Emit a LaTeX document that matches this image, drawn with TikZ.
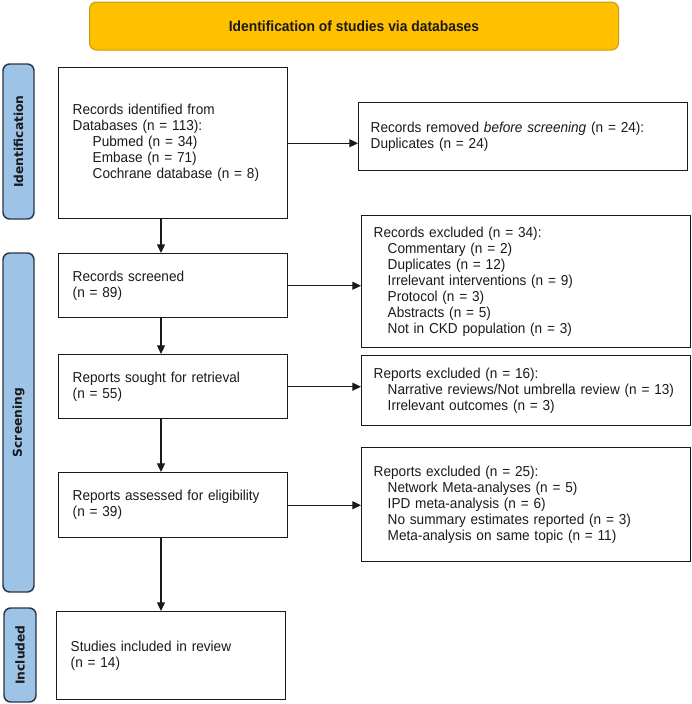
\documentclass[tikz,border=0pt]{standalone}
\usepackage{fontspec}
\setmainfont[FakeStretch=0.945]{Liberation Sans}
\newfontfamily\barfont{DejaVu Sans}
\usetikzlibrary{arrows.meta}
\definecolor{bannerfill}{HTML}{FFC000}
\definecolor{bannerline}{HTML}{C89A10}
\definecolor{barfill}{HTML}{9DC3E6}
\definecolor{barline}{HTML}{2A3645}
\definecolor{ink}{HTML}{1A1A1A}
\begin{document}
\begin{tikzpicture}[x=0.75pt,y=-0.75pt,
  every node/.style={font=\fontsize{10.8pt}{12pt}\selectfont, text=ink},
  mainbox/.style={draw=ink, line width=1.1pt, anchor=north west, inner xsep=10.5pt, inner ysep=0pt, text width=150.75pt, align=left},
  sidebox/.style={draw=ink, line width=1.1pt, anchor=north west, inner xsep=9pt, inner ysep=0pt, text width=228.75pt, align=left},
  phase/.style={draw=barline, fill=barfill, line width=1.1pt, rounded corners=5pt, minimum height=23.25pt, inner sep=0pt, rotate=90, font=\barfont\bfseries\fontsize{9.2pt}{10pt}\selectfont},
  banner/.style={draw=bannerline, fill=bannerfill, line width=0.75pt, rounded corners=5.25pt, minimum width=396.75pt, minimum height=36pt, font=\bfseries\fontsize{11pt}{12pt}\selectfont},
  flow/.style={draw=ink, line width=0.9pt, -{Triangle[length=6.5pt,width=6pt]}}]
\useasboundingbox (0,0) rectangle (692,704);

% banner
\node[banner] (title) at (354,26) {Identification of studies via databases};

% phase bars
\node[phase, minimum width=116.25pt] (pid) at (18.5,141.5) {Identification};
\node[phase, minimum width=254.25pt] (pscr) at (18.5,422.5) {Screening};
\node[phase, minimum width=70.5pt, minimum height=24pt] (pinc) at (20,655) {Included};

% main column
\node[mainbox, minimum height=113.25pt] (B1) at (58,67) {Records identified from\\Databases (n = 113):\\\hspace*{15pt}Pubmed (n = 34)\\\hspace*{15pt}Embase (n = 71)\\\hspace*{15pt}Cochrane database (n = 8)};
\node[mainbox, minimum height=48pt] (B2) at (58,253) {Records screened\\(n = 89)};
\node[mainbox, minimum height=48pt] (B3) at (58,354) {Reports sought for retrieval\\(n = 55)};
\node[mainbox, minimum height=48.75pt] (B4) at (58,472) {Reports assessed for eligibility\\(n = 39)};
\node[mainbox, minimum height=66pt] (B5) at (56,611) {Studies included in review\\(n = 14)};

% side column
\node[sidebox, minimum height=51pt] (R0) at (358,102) {Records removed \textit{before screening} (n = 24):\\Duplicates (n = 24)};
\node[sidebox, minimum height=99pt] (R1) at (361,215) {Records excluded (n = 34):\\\hspace*{10.5pt}Commentary (n = 2)\\\hspace*{10.5pt}Duplicates (n = 12)\\\hspace*{10.5pt}Irrelevant interventions (n = 9)\\\hspace*{10.5pt}Protocol (n = 3)\\\hspace*{10.5pt}Abstracts (n = 5)\\\hspace*{10.5pt}Not in CKD population (n = 3)};
\node[sidebox, minimum height=52.5pt] (R2) at (361,355) {Reports excluded (n = 16):\\\hspace*{10.5pt}Narrative reviews/Not umbrella review (n = 13)\\\hspace*{10.5pt}Irrelevant outcomes (n = 3)};
\node[sidebox, minimum height=85.5pt] (R3) at (361,447) {Reports excluded (n = 25):\\\hspace*{10.5pt}Network Meta-analyses (n = 5)\\\hspace*{10.5pt}IPD meta-analysis (n = 6)\\\hspace*{10.5pt}No summary estimates reported (n = 3)\\\hspace*{10.5pt}Meta-analysis on same topic (n = 11)};

% connectors
\coordinate (ax) at (161,0);
\draw[flow] (B1.south -| ax) -- (B2.north -| ax);
\draw[flow] (B2.south -| ax) -- (B3.north -| ax);
\draw[flow] (B3.south -| ax) -- (B4.north -| ax);
\draw[flow] (B4.south -| ax) -- (B5.north -| ax);
\draw[flow] (B1.east) -- (B1.east -| R0.west);
\draw[flow] (B2.east) -- (B2.east -| R1.west);
\draw[flow] (B3.east) -- (B3.east -| R2.west);
\draw[flow] (B4.east) -- (B4.east -| R3.west);
\end{tikzpicture}
\end{document}
